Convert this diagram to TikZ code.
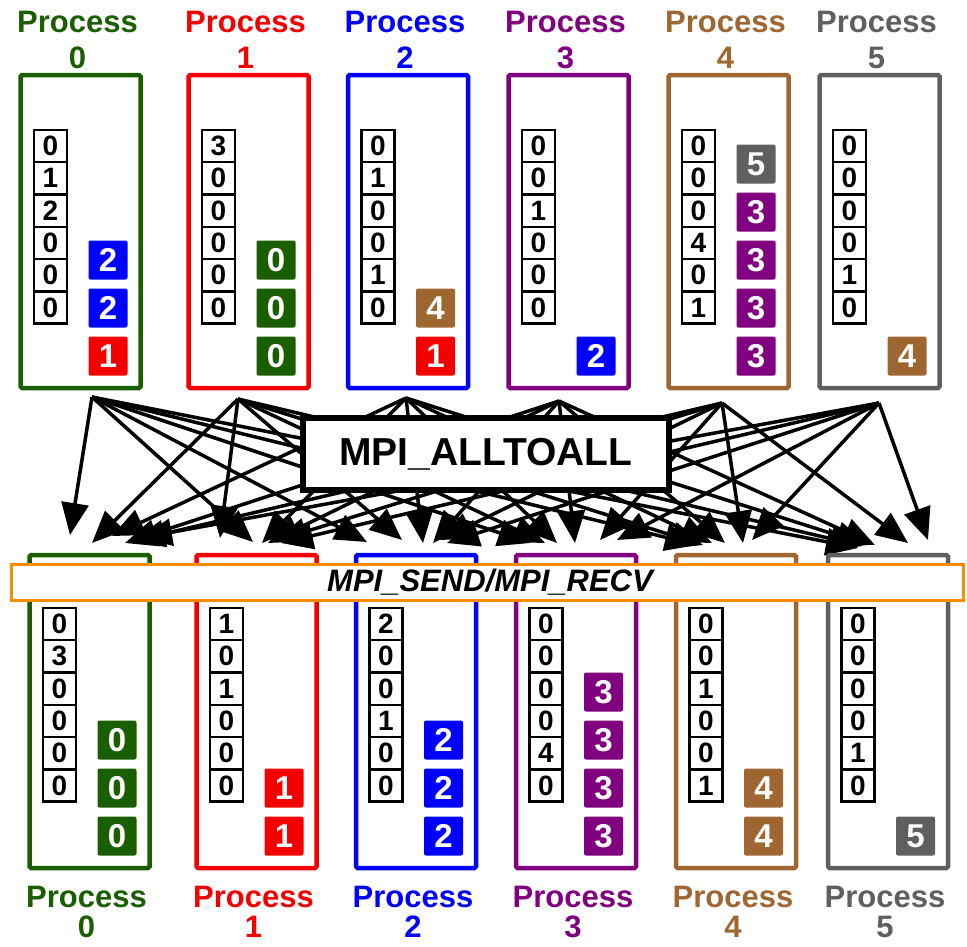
\documentclass[tikz,border=0pt]{standalone}
\usepackage{fontspec}
\setmainfont{Liberation Sans}
\usetikzlibrary{arrows.meta}
\definecolor{pg}{RGB}{27,94,0}
\definecolor{pr}{RGB}{245,0,0}
\definecolor{pb}{RGB}{0,0,255}
\definecolor{pp}{RGB}{128,0,128}
\definecolor{pn}{RGB}{158,102,48}
\definecolor{pa}{RGB}{95,95,95}
\definecolor{po}{RGB}{255,140,0}
\begin{document}
\begin{tikzpicture}[x=1pt,y=-1pt,
  procbox/.style={draw=#1, line width=4.5pt, rounded corners=1.5pt, minimum width=120pt, minimum height=313pt, inner sep=0pt},
  cell/.style={draw, fill=white, line width=2.5pt, minimum width=33pt, minimum height=32.3pt, inner sep=0pt, font=\fontsize{28}{28}\selectfont\bfseries},
  sq/.style={fill=#1, rounded corners=2pt, minimum size=39pt, inner sep=0pt, text=white, font=\fontsize{33}{33}\selectfont\bfseries},
  plabel/.style={text=#1, font=\fontsize{31}{31}\selectfont\bfseries, inner sep=0pt},
  conn/.style={line width=3.5pt, -{Triangle[length=32pt,width=27pt]}},
  ]
\useasboundingbox (0,0) rectangle (967,946);

% arrow sources
\foreach \i/\x/\y in {0/92/397,1/238/399,2/406/398,3/559/401,4/722/403,5/879/403}
  \coordinate (s\i) at (\x,\y);
% arrow tips
\foreach \i/\j/\x/\y in {
  0/0/70/535, 1/0/92/543, 2/0/112/536, 3/0/125/543, 4/0/133/541, 5/0/140/538,
  0/1/253/542, 1/1/220/538, 2/1/262/543, 3/1/268/543, 4/1/275/541, 5/1/281/543,
  0/2/367/542, 1/2/402/540, 2/2/423/543, 3/2/433/543, 4/2/440/540, 5/2/447/543,
  0/3/530/543, 1/3/545/543, 2/3/557/543, 3/3/575/543, 4/3/600/540, 5/3/617/540,
  0/4/697/545, 1/4/703/545, 2/4/712/543, 3/4/725/543, 4/4/743/543, 5/4/752/540,
  0/5/858/548, 1/5/862/546, 2/5/868/545, 3/5/875/545, 4/5/908/543, 5/5/928/540}
  \coordinate (e\i\j) at (\x,\y);
\foreach \i in {0,...,5}
  \foreach \j in {0,...,5}
    \draw[conn] (s\i) -- (e\i\j);

% central box
\node[draw, fill=white, line width=6pt, minimum width=366pt, minimum height=72pt, inner sep=0pt,
      font=\fontsize{39}{39}\selectfont\bfseries] (all) at (486,454) {MPI\_ALLTOALL};

% top processes
\foreach \i/\cx/\col/\vals/\sqs in {
  0/80.5/pg/{0,1,2,0,0,0}/{2/pb/2,3/pb/2,4/pr/1},
  1/248.5/pr/{3,0,0,0,0,0}/{2/pg/0,3/pg/0,4/pg/0},
  2/408/pb/{0,1,0,0,1,0}/{3/pn/4,4/pr/1},
  3/568.5/pp/{0,0,1,0,0,0}/{4/pb/2},
  4/728.5/pn/{0,0,0,4,0,1}/{0/pa/5,1/pp/3,2/pp/3,3/pp/3,4/pp/3},
  5/879.5/pa/{0,0,0,0,1,0}/{4/pn/4}}{
  \node[plabel=\col] (tl\i) at (\cx-3,22) {Process};
  \node[plabel=\col] (tn\i) at (\cx-3,58) {\i};
  \node[procbox=\col] (t\i) at (\cx,231.5) {};
  \foreach \v [count=\k from 0] in \vals
    \node[cell] (tc\i-\k) at (\cx-30,146+32.3*\k) {\v};
  \foreach \s/\c/\d in \sqs
    \node[sq=\c] (ts\i-\s) at (\cx+27.5,164+48*\s) {\d};
}

% bottom processes
\foreach \i/\cx/\col/\vals/\sqs in {
  0/89.5/pg/{0,3,0,0,0,0}/{2/pg/0,3/pg/0,4/pg/0},
  1/256.5/pr/{1,0,1,0,0,0}/{3/pr/1,4/pr/1},
  2/416/pb/{2,0,0,1,0,0}/{2/pb/2,3/pb/2,4/pb/2},
  3/576/pp/{0,0,0,0,4,0}/{1/pp/3,2/pp/3,3/pp/3,4/pp/3},
  4/736/pn/{0,0,1,0,0,1}/{3/pn/4,4/pn/4},
  5/888/pa/{0,0,0,0,1,0}/{4/pa/5}}{
  \node[procbox=\col] (b\i) at (\cx,711.5) {};
  \foreach \v [count=\k from 0] in \vals
    \node[cell] (bc\i-\k) at (\cx-30,624+32.3*\k) {\v};
  \foreach \s/\c/\d in \sqs
    \node[sq=\c] (bs\i-\s) at (\cx+27.5,644+48*\s) {\d};
  \node[plabel=\col] (bl\i) at (\cx-3,897) {Process};
  \node[plabel=\col] (bn\i) at (\cx-3,927) {\i};
}

% send/recv band
\node[draw=po, fill=white, line width=3pt, minimum width=952pt, minimum height=36pt, inner sep=0pt] (band) at (487.5,582.5) {};
\node[font=\fontsize{31}{31}\selectfont\bfseries\itshape, inner sep=0pt] (bandtxt) at (490,582.5) {MPI\_SEND/MPI\_RECV};
\end{tikzpicture}
\end{document}
